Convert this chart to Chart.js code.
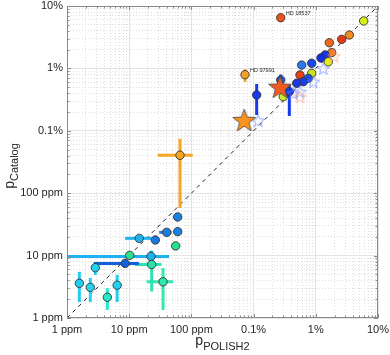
<!DOCTYPE html>
<html>
<head>
<meta charset="utf-8">
<script src="https://cdn.jsdelivr.net/npm/chart.js@4.4.0/dist/chart.umd.min.js"></script>
<style>
html, body { margin: 0; padding: 0; background: #fff; }
</style>
</head>
<body>
<canvas id="chart" width="390" height="355"></canvas>
<script>
// axis decades and their labels (values in ppm)
var tickVals = [1, 10, 100, 1000, 10000, 100000];
var tickText = ['1 ppm', '10 ppm', '100 ppm', '0.1%', '1%', '10%'];

// circles: p_POLISH2 (x) and p_Catalog (y), ppm
var polX = [2730, 58900, 34600, 26100, 16500, 18000, 14100, 12100, 15900, 8590, 5930, 5570, 8590, 7570, 6300, 4930, 3000, 3750, 2730, 1120, 728,
	65.6, 60.2, 60.2, 40.1, 26.3, 14.5, 55.9, 22.4, 10.2, 8.6, 2.85, 1.58, 2.37, 4.45, 6.4, 23, 35];
var catY = [64900, 57500, 34300, 29200, 25800, 17900, 16400, 14700, 12800, 12100, 11300, 7840, 8340, 6930, 6120, 5770, 3520, 4230, 6520, 3750, 7930,
	405, 41.6, 24.2, 23.6, 17.8, 18.9, 14.3, 9.7, 10.1, 7.5, 6.4, 3.6, 3.1, 2.15, 3.35, 7.2, 3.8];

// error ranges (null = no bar)
var polLo = [null, null, null, null, null, null, null, null, null, null, null, null, null, null, null, null, null, null, null, null, null,
	28.7, null, null, 30.4, null, 8.6, null, 0.5, null, 2.7, null, null, null, null, null, 12.4, 19];
var polHi = [null, null, null, null, null, null, null, null, null, null, null, null, null, null, null, null, null, null, null, null, null,
	105, null, null, 48, null, 22.6, null, 43.8, null, 14.3, null, null, null, null, null, 33, 51];
var catLo = [null, null, null, null, null, null, null, null, null, null, null, null, null, null, null, null, null, 1730, 4500, 1790, 6120,
	58, null, null, null, null, null, 12.6, 7.1, null, null, 4.9, 1.8, 1.8, 1.35, 1.8, 2.65, 1.34];
var catHi = [null, null, null, null, null, null, null, null, null, null, null, null, null, null, null, null, null, 5420, 8000, 5620, 9680,
	747, null, null, null, null, null, 15.8, 12, null, null, 7.6, 5.5, 4.4, 3.0, 4.9, 12, 6.3];

// filled stars
var bigStarX = [2660, 708];
var bigStarY = [5090, 1490];

// open stars
var openStarX = [13200, 9120, 5570, 4350, 1190, 19600, 5570];
var openStarY = [10000, 6120, 4230, 3990, 1450, 15800, 3520];

// named points
var noteText = ['HD 18537', 'HD 97991'];
var noteX = [2730, 728];
var noteY = [64900, 7930];

// 1:1 line
var diagX = [1, 100000];

var dotColors = ['#e8521c', '#d6ee1a', '#f08c1e', '#e63a16', '#f06a1a', '#f07c22', '#1838f0', '#1030e8', '#e6ec1e', '#1a48ee', '#2a78ea',
	'#e8401a', '#c8e61e', '#1c50ea', '#1840ea', '#1a3ae8', '#c8ec2a', '#1438ec', '#1a5ae8', '#1838ee', '#f0a024',
	'#f5a623', '#1a80e2', '#1a80e2', '#1a7ee0', '#1a78e0', '#1eb4f0', '#22e08e', '#1eb2f0', '#30e08a', '#1260d8',
	'#22d0f0', '#22ccf0', '#22d4f0', '#24e8c8', '#22d0f0', '#30e0b0', '#30e8b0'];
var bigStarColors = ['#f35a1e', '#f7931e'];
var openStarColors = ['#6a86ff', '#6a86ff', '#6a86ff', '#6a86ff', '#6a86ff', '#ff9a80', '#ff9a80'];

var FONT = 'Liberation Sans, Arial, sans-serif';

// every 1..9 x 10^n for the grid
var gridVals = [];
for (var n = 0; n < tickVals.length - 1; n++) {
	for (var k = 1; k < 10; k++) gridVals.push(k * tickVals[n]);
}
gridVals.push(tickVals[tickVals.length - 1]);

function isMajor(v) { return tickVals.indexOf(v) >= 0; }

// five point star as an image for pointStyle
function starImg(r, fill, stroke, lw) {
	var c = document.createElement('canvas');
	var s = Math.ceil(2 * r + 2 * lw + 2);
	c.width = s; c.height = s;
	var g = c.getContext('2d');
	g.beginPath();
	for (var i = 0; i < 10; i++) {
		var rr = i % 2 ? r * 0.42 : r;
		var a = -Math.PI / 2 + i * Math.PI / 5;
		var px = s / 2 + rr * Math.cos(a), py = s / 2 + rr * Math.sin(a) + r * 0.1;
		if (i == 0) g.moveTo(px, py); else g.lineTo(px, py);
	}
	g.closePath();
	if (fill) { g.fillStyle = fill; g.fill(); }
	g.lineWidth = lw;
	g.strokeStyle = stroke;
	g.stroke();
	return c;
}

var circles = polX.map(function(x, i) { return {x: x, y: catY[i]}; });
var bigStars = bigStarX.map(function(x, i) { return {x: x, y: bigStarY[i]}; });
var openStars = openStarX.map(function(x, i) { return {x: x, y: openStarY[i]}; });

var datasets = [
	{
		type: 'scatter', data: bigStars, order: 0,
		pointStyle: bigStarColors.map(function(c) { return starImg(12, c, '#444', 0.8); })
	},
	{
		type: 'scatter', data: openStars, order: 1,
		pointStyle: openStarColors.map(function(c) { return starImg(6.5, null, c, 0.7); })
	},
	{
		type: 'scatter', data: circles, order: 2,
		pointRadius: 4.2, borderWidth: 0.9, borderColor: '#333',
		backgroundColor: dotColors
	}
];

// error bars as short line pieces through the scales
polX.forEach(function(x, i) {
	var pts = [];
	if (polLo[i] != null) {
		pts.push({x: polLo[i], y: catY[i]}, {x: polHi[i], y: catY[i]}, {x: x, y: null});
	}
	if (catLo[i] != null) {
		pts.push({x: x, y: catLo[i]}, {x: x, y: catHi[i]});
	}
	if (pts.length) {
		datasets.push({
			type: 'line', data: pts, order: 5, borderColor: dotColors[i], borderWidth: 3,
			pointRadius: 0, spanGaps: false, borderCapStyle: 'butt'
		});
	}
});

datasets.push({
	type: 'line', data: diagX.map(function(v) { return {x: v, y: v}; }), order: 8,
	borderColor: '#222', borderWidth: 1, borderDash: [4, 4], pointRadius: 0
});

function axis(pos) {
	return {
		type: 'logarithmic', position: pos, min: tickVals[0], max: tickVals[tickVals.length - 1],
		afterBuildTicks: function(s) { s.ticks = gridVals.map(function(v) { return {value: v}; }); },
		afterFit: function(s) {
			if (pos == 'left') s.width = 67; else s.height = 37;
			// keep the plot box fixed, labels may overhang
			s.paddingLeft = 0; s.paddingRight = 0; s.paddingTop = 0; s.paddingBottom = 0;
		},
		ticks: {
			autoSkip: false, maxRotation: 0, padding: pos == 'left' ? 4 : 5,
			color: '#262626', font: {family: FONT, size: 11},
			callback: function(v) { var k = tickVals.indexOf(v); return k >= 0 ? tickText[k] : ''; }
		},
		grid: {
			drawTicks: false,
			color: function(ctx) { return ctx.tick && isMajor(ctx.tick.value) ? '#e4e4e4' : '#dedede'; },
			lineWidth: 1
		},
		border: {
			display: false,
			dash: function(ctx) { return ctx.tick && !isMajor(ctx.tick.value) ? [1, 2] : []; }
		}
	};
}

// box, inner ticks, axis titles and point names
var decorations = {
	id: 'decorations',
	afterDatasetsDraw: function(chart) {
		var c = chart.ctx, a = chart.chartArea, xs = chart.scales.x, ys = chart.scales.y;
		c.save();
		c.strokeStyle = '#8a8a8a';
		c.lineWidth = 1;
		c.strokeRect(a.left + 0.5, a.top + 0.5, a.right - a.left - 1, a.bottom - a.top - 1);
		c.beginPath();
		gridVals.forEach(function(v) {
			var L = isMajor(v) ? 4 : 2.5;
			var px = Math.round(xs.getPixelForValue(v)) + 0.5;
			var py = Math.round(ys.getPixelForValue(v)) + 0.5;
			c.moveTo(px, a.bottom); c.lineTo(px, a.bottom - L);
			c.moveTo(px, a.top); c.lineTo(px, a.top + L);
			c.moveTo(a.left, py); c.lineTo(a.left + L, py);
			c.moveTo(a.right, py); c.lineTo(a.right - L, py);
		});
		c.stroke();

		c.fillStyle = '#262626';
		c.textBaseline = 'alphabetic';
		c.font = '5.5px ' + FONT;
		noteText.forEach(function(t, i) {
			c.fillText(t, xs.getPixelForValue(noteX[i]) + 5, ys.getPixelForValue(noteY[i]) - 2.5);
		});

		// x title: p with subscript
		c.font = '14px ' + FONT;
		var pw = c.measureText('p').width;
		c.font = '11px ' + FONT;
		var sw = c.measureText('POLISH2').width;
		var x0 = (a.left + a.right) / 2 - (pw + sw) / 2;
		c.font = '14px ' + FONT;
		c.fillText('p', x0, 345);
		c.font = '11px ' + FONT;
		c.fillText('POLISH2', x0 + pw, 350);

		// y title
		c.translate(14, (a.top + a.bottom) / 2 + 4);
		c.rotate(-Math.PI / 2);
		c.font = '14px ' + FONT;
		pw = c.measureText('p').width;
		c.font = '11px ' + FONT;
		sw = c.measureText('Catalog').width;
		x0 = -(pw + sw) / 2;
		c.font = '14px ' + FONT;
		c.fillText('p', x0, 0);
		c.font = '11px ' + FONT;
		c.fillText('Catalog', x0 + pw, 4);
		c.restore();
	}
};

var chart = new Chart(document.getElementById('chart').getContext('2d'), {
	type: 'scatter',
	data: {datasets: datasets},
	options: {
		responsive: false,
		animation: false,
		devicePixelRatio: 1,
		layout: {padding: {top: 6, right: 12, left: 0, bottom: 0}},
		plugins: {legend: {display: false}, tooltip: {enabled: false}},
		scales: {x: axis('bottom'), y: axis('left')}
	},
	plugins: [decorations]
});
</script>
</body>
</html>
